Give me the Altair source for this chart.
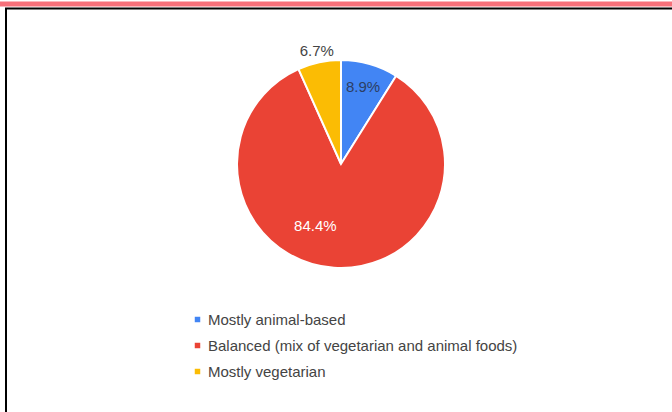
import altair as alt
import pandas as pd

categories = ["Mostly animal-based", "Balanced (mix of vegetarian and animal foods)", "Mostly vegetarian"]
values = [8.9, 84.4, 6.7]
labels = ["8.9%", "84.4%", "6.7%"]
colors = ["#4285F4", "#EA4335", "#FBBC04"]

df = pd.DataFrame({"category": categories, "value": values, "label": labels, "idx": list(range(len(values)))})

FONT = "Liberation Sans"
CX, CY, R = 341, 164, 104

base = alt.Chart(df).transform_window(
    cum="sum(value)", sort=[alt.SortField("idx")]
).transform_joinaggregate(total="sum(value)").transform_calculate(
    mid="2*PI*(datum.cum - datum.value/2)/datum.total"
)

pie = alt.Chart(df).mark_arc(outerRadius=R, stroke="white", strokeWidth=2).encode(
    theta=alt.Theta("value:Q", stack=True),
    order=alt.Order("idx:Q"),
    color=alt.Color(
        "category:N",
        scale=alt.Scale(domain=categories, range=colors),
        sort=categories,
        legend=alt.Legend(
            title=None,
            orient="none",
            legendX=190,
            legendY=312,
            symbolType="square",
            symbolSize=30,
            symbolStrokeWidth=0,
            labelFontSize=15,
            labelFont=FONT,
            labelColor="#444444",
            labelOffset=3,
            rowPadding=10,
            labelLimit=500,
        ),
    ),
    x=alt.value(CX),
    y=alt.value(CY),
)

def label_layer(cat, radius, color, dx=0, dy=0):
    return base.transform_filter(alt.datum.category == cat).mark_text(
        radius=radius, font=FONT, fontSize=15, color=color, dx=dx, dy=dy
    ).encode(
        theta=alt.Theta("mid:Q", scale=None),
        text="label:N",
        x=alt.value(CX),
        y=alt.value(CY),
    )

t1 = label_layer(categories[0], 80, "#2c3e64", 0, 0)
t2 = label_layer(categories[1], 67, "#ffffff", -21, -5)
t3 = label_layer(categories[2], 116, "#444444", 0, 0)

one = pd.DataFrame({"a": [0]})
red_stripe = alt.Chart(one).mark_rule(color="#F7707A", strokeWidth=5).encode(
    x=alt.value(0), x2=alt.value(672), y=alt.value(4)
)
top_border = alt.Chart(one).mark_rule(color="#000000", strokeWidth=2).encode(
    x=alt.value(5), x2=alt.value(672), y=alt.value(8.5)
)
left_border = alt.Chart(one).mark_rule(color="#000000", strokeWidth=2).encode(
    x=alt.value(6), y=alt.value(8), y2=alt.value(412)
)

chart = alt.layer(red_stripe, top_border, left_border, pie, t1, t2, t3).properties(
    width=672, height=412, autosize=alt.AutoSizeParams(type="none"), padding=0, background="white"
).configure_view(stroke=None)

chart.save("out.html", embed_options={"renderer": "svg", "actions": False})
